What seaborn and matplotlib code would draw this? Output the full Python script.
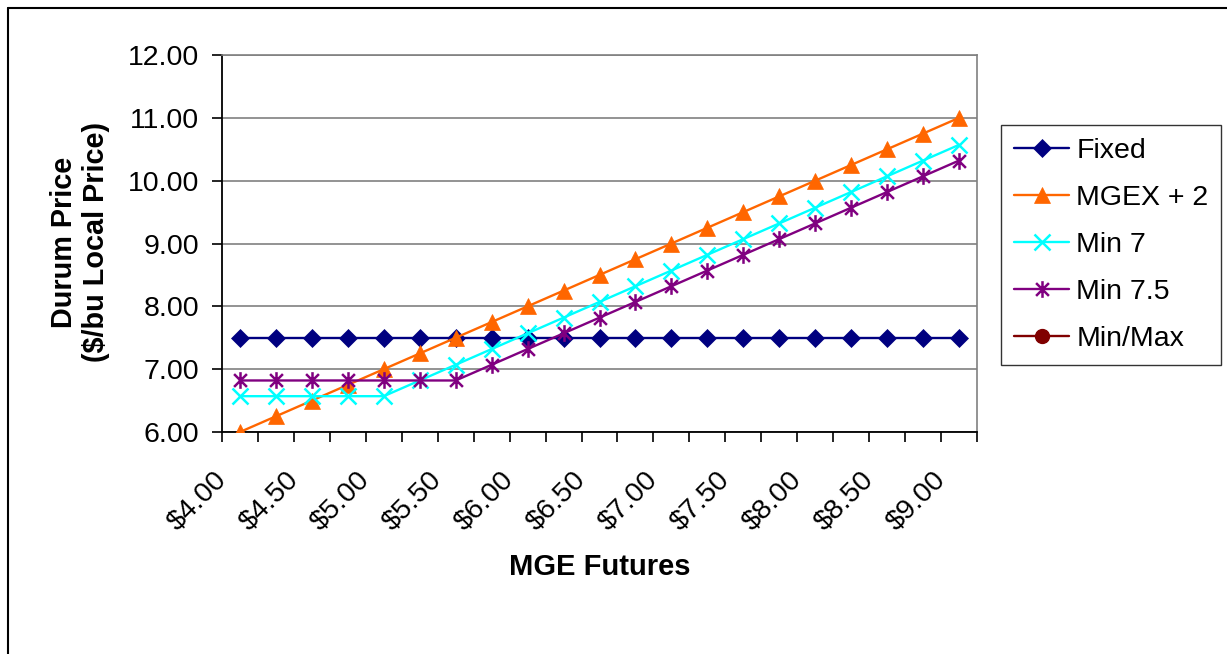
import matplotlib
matplotlib.use("Agg")
import matplotlib.pyplot as plt
from matplotlib.lines import Line2D
from matplotlib.path import Path
from matplotlib import transforms
import numpy as np
import pandas as pd
import seaborn as sns

# category labels on the x axis (MGE futures price)
futures = ["$4.00", "$4.25", "$4.50", "$4.75", "$5.00", "$5.25", "$5.50", "$5.75",
           "$6.00", "$6.25", "$6.50", "$6.75", "$7.00", "$7.25", "$7.50", "$7.75",
           "$8.00", "$8.25", "$8.50", "$8.75", "$9.00"]

fixed = [7.50, 7.50, 7.50, 7.50, 7.50, 7.50, 7.50, 7.50, 7.50, 7.50, 7.50,
         7.50, 7.50, 7.50, 7.50, 7.50, 7.50, 7.50, 7.50, 7.50, 7.50]
mgex_2 = [6.00, 6.25, 6.50, 6.75, 7.00, 7.25, 7.50, 7.75, 8.00, 8.25, 8.50,
          8.75, 9.00, 9.25, 9.50, 9.75, 10.00, 10.25, 10.50, 10.75, 11.00]
min_7 = [6.57, 6.57, 6.57, 6.57, 6.57, 6.82, 7.07, 7.32, 7.57, 7.82, 8.07,
         8.32, 8.57, 8.82, 9.07, 9.32, 9.57, 9.82, 10.07, 10.32, 10.57]
min_75 = [6.82, 6.82, 6.82, 6.82, 6.82, 6.82, 6.82, 7.07, 7.32, 7.57, 7.82,
          8.07, 8.32, 8.57, 8.82, 9.07, 9.32, 9.57, 9.82, 10.07, 10.32]

ytick_labels = ["6.00", "7.00", "8.00", "9.00", "10.00", "11.00", "12.00"]

sns.set_style("white", {"text.color": "black", "xtick.color": "black",
                        "ytick.color": "black", "axes.labelcolor": "black"})
plt.rcParams['font.family'] = ['Liberation Sans', 'DejaVu Sans']

# excel style star: an x with a vertical bar through it
star = Path([(-1, -1), (1, 1), (-1, 1), (1, -1), (0, -1.3), (0, 1.3)],
            [Path.MOVETO, Path.LINETO, Path.MOVETO, Path.LINETO, Path.MOVETO, Path.LINETO])

series = [
    ("Fixed", fixed, "#000080", "D", 9, 0.5),
    ("MGEX + 2", mgex_2, "#FF6600", "^", 11, 0.5),
    ("Min 7", min_7, "#00FFFF", "x", 11, 1.8),
    ("Min 7.5", min_75, "#800080", star, 12, 1.8),
]

fig = plt.figure(figsize=(12.27, 6.54), dpi=100)
ax = fig.add_axes([222 / 1227, 1 - 432 / 654, (977 - 222) / 1227, (432 - 55) / 654])

x = np.arange(len(futures))
handles = []
for name, vals, col, mk, ms, mew in series:
    df = pd.DataFrame({"x": x, "y": vals})
    sns.lineplot(data=df, x="x", y="y", ax=ax, color=col, linewidth=1.7,
                 marker=mk, markersize=ms, markerfacecolor=col, markeredgecolor=col,
                 markeredgewidth=mew, legend=False, zorder=3)
    handles.append(Line2D([], [], color=col, linewidth=1.7, marker=mk, markersize=ms,
                          markerfacecolor=col, markeredgecolor=col, markeredgewidth=mew))
handles.append(Line2D([], [], color="#800000", linewidth=1.7, marker="o", markersize=10,
                      markerfacecolor="#800000", markeredgecolor="#800000"))
labels = ["Fixed", "MGEX + 2", "Min 7", "Min 7.5", "Min/Max"]

ax.set_xlim(-0.5, len(futures) - 0.5)
ax.set_ylim(6, 12)
ax.set_yticks([6, 7, 8, 9, 10, 11, 12])
ax.set_yticklabels(ytick_labels, fontsize=20.5)
ax.yaxis.grid(True, color="#808080", linewidth=1.2)
ax.set_axisbelow(True)

ax.set_xticks(x[::2])
ax.set_xticks(np.arange(-0.5, len(futures), 1), minor=True)
ax.tick_params(axis="x", which="major", length=0, pad=14)
ax.tick_params(axis="x", which="minor", length=7, width=1.2, color="black", direction="out")
ax.tick_params(axis="y", length=7, width=1.2, color="black", direction="out", pad=9.5)
ax.xaxis.set_tick_params(bottom=True, which="both")
ax.yaxis.set_tick_params(left=True)
ax.set_xticklabels(futures[::2], fontsize=20.5, rotation=45, ha="right", va="top",
                   rotation_mode="anchor")
# nudge the slanted labels left/down like excel does
shift = transforms.ScaledTranslation(-0.27, -0.15, fig.dpi_scale_trans)
for lab in ax.get_xticklabels():
    lab.set_transform(lab.get_transform() + shift)

for side in ["left", "bottom"]:
    ax.spines[side].set_color("black")
    ax.spines[side].set_linewidth(1.3)
for side in ["top", "right"]:
    ax.spines[side].set_visible(True)
    ax.spines[side].set_color("#808080")
    ax.spines[side].set_linewidth(1.2)

ax.set_xlabel("MGE Futures", fontsize=21, fontweight="bold", va="center")
ax.xaxis.set_label_coords(0.5, (432 - 567) / 377)
ax.set_ylabel("Durum Price\n($/bu Local Price)", fontsize=20.8, fontweight="bold",
              va="center", linespacing=1.15)
ax.yaxis.set_label_coords((80 - 222) / 755, (432 - 242) / 377)

leg = fig.legend(handles, labels, loc="upper left",
                 bbox_to_anchor=(1001 / 1227, 1 - 125 / 654), fontsize=20.5,
                 frameon=True, fancybox=False, edgecolor="black", handlelength=1.95,
                 labelspacing=0.74, borderpad=0.45, handletextpad=0.25, borderaxespad=0)
leg.get_frame().set_linewidth(1.0)

# outer chart border (only top and left fall inside the picture)
fig.add_artist(Line2D([8 / 1227, 8 / 1227], [0, 1 - 8 / 654], color="black", linewidth=1.5))
fig.add_artist(Line2D([8 / 1227, 1], [1 - 8 / 654, 1 - 8 / 654], color="black", linewidth=1.5))

fig.savefig("out.png", dpi=100)
